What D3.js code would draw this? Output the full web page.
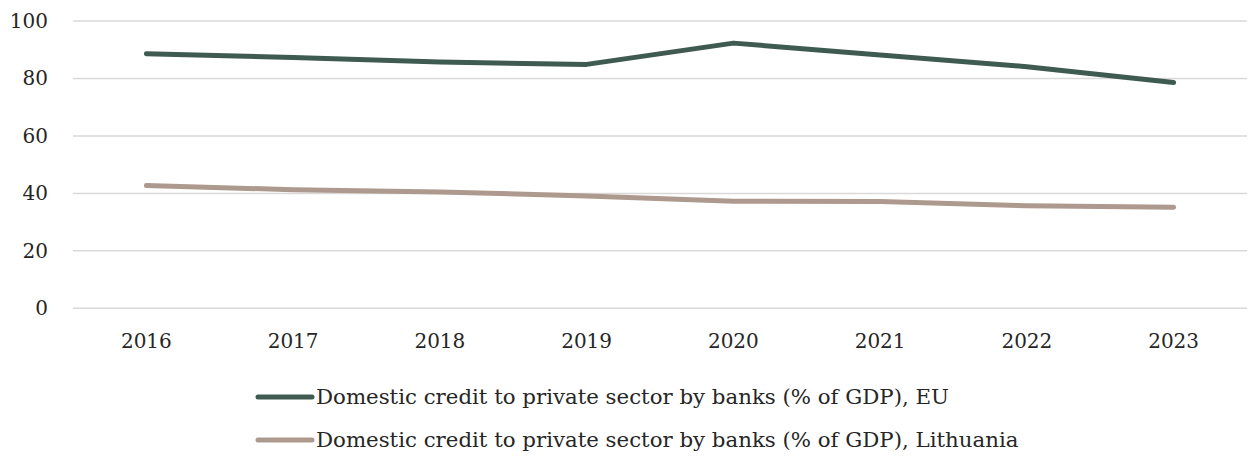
<!DOCTYPE html>
<html>
<head>
<meta charset="utf-8">
<script src="https://cdn.jsdelivr.net/npm/d3@7"></script>
<style>
  html, body { margin: 0; padding: 0; background: #fff; }
  svg text { font-family: "DejaVu Serif", "Liberation Serif", serif; fill: #262626; }
</style>
</head>
<body>
<svg id="chart" width="1249" height="461"></svg>
<script>
// Domestic credit to private sector by banks, % of GDP
const years = ["2016", "2017", "2018", "2019", "2020", "2021", "2022", "2023"];
const euValues = [88.6, 87.3, 85.7, 84.9, 92.3, 88.2, 84.1, 78.6];
const ltValues = [42.7, 41.3, 40.5, 39.1, 37.3, 37.2, 35.7, 35.2];
const yTicks = [0, 20, 40, 60, 80, 100];
const seriesNames = [
  "Domestic credit to private sector by banks (% of GDP), EU",
  "Domestic credit to private sector by banks (% of GDP), Lithuania"
];
const seriesColors = ["#3f5a50", "#ad998d"];

const svg = d3.select("#chart");
const plotLeft = 73, plotRight = 1247, plotTop = 21, plotBottom = 308.3;

const x = d3.scaleBand().domain(years).range([plotLeft, plotRight]);
const y = d3.scaleLinear().domain([0, 100]).range([plotBottom, plotTop]);

// horizontal gridlines
svg.append("g")
  .selectAll("line")
  .data(yTicks)
  .join("line")
  .attr("x1", plotLeft).attr("x2", plotRight)
  .attr("y1", d => y(d)).attr("y2", d => y(d))
  .attr("stroke", "#d9d9d9")
  .attr("stroke-width", 1.5);

// y axis labels
const yAxis = d3.axisLeft(y).tickValues(yTicks).tickSize(0).tickPadding(0);
svg.append("g")
  .attr("transform", `translate(${plotLeft - 25},0)`)
  .call(yAxis)
  .call(g => g.select(".domain").remove())
  .selectAll("text")
  .attr("font-size", 20)
  .attr("dy", "0.32em");

// x axis labels
const xAxis = d3.axisBottom(x).tickSize(0).tickPadding(0);
svg.append("g")
  .attr("transform", `translate(0,${plotBottom + 25})`)
  .call(xAxis)
  .call(g => g.select(".domain").remove())
  .selectAll("text")
  .attr("font-size", 20)
  .attr("dy", "0.71em");

// series lines
const line = d3.line()
  .x((d, i) => x(years[i]) + x.bandwidth() / 2)
  .y(d => y(d));

[euValues, ltValues].forEach((vals, k) => {
  svg.append("path")
    .datum(vals)
    .attr("d", line)
    .attr("fill", "none")
    .attr("stroke", seriesColors[k])
    .attr("stroke-width", 5)
    .attr("stroke-linecap", "round")
    .attr("stroke-linejoin", "round");
});

// legend
const legend = svg.append("g").attr("transform", "translate(258,397)");
seriesNames.forEach((name, k) => {
  const row = legend.append("g").attr("transform", `translate(0,${k * 43})`);
  row.append("line")
    .attr("x1", 0).attr("x2", 54)
    .attr("stroke", seriesColors[k])
    .attr("stroke-width", 5)
    .attr("stroke-linecap", "round");
  row.append("text")
    .attr("x", 58)
    .attr("dy", "0.35em")
    .attr("font-size", 21.3)
    .text(name);
});
</script>
</body>
</html>
